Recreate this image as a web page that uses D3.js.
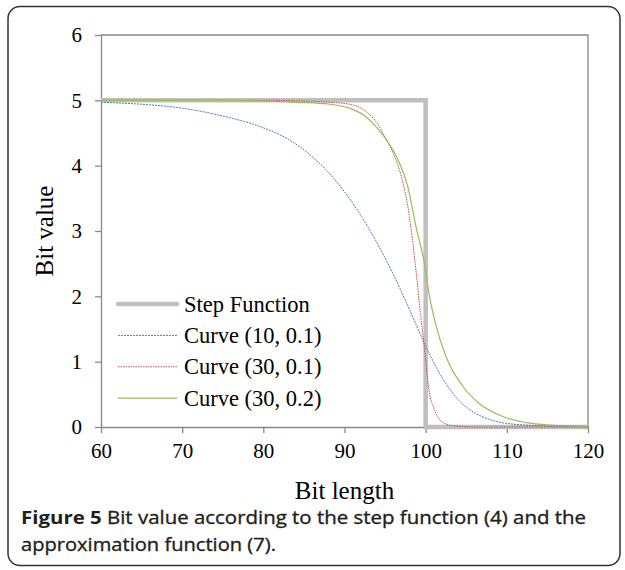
<!DOCTYPE html>
<html>
<head>
<meta charset="utf-8">
<script src="https://cdn.jsdelivr.net/npm/d3@7"></script>
<style>
  html, body { margin: 0; padding: 0; background: #fff; }
  svg { display: block; }
</style>
</head>
<body>
<svg id="chart" width="625" height="570"></svg>
<script>
// Axis ticks
const xTicks = [60, 70, 80, 90, 100, 110, 120];
const yTicks = [0, 1, 2, 3, 4, 5, 6];

// Step function: bit value 5 up to length 100, then 0
const stepX = [60, 100, 100, 120];
const stepY = [5, 5, 0, 0];

// Curve (10, 0.1)
const curveAX = [60, 65, 70, 75, 80, 83, 86, 88, 90, 92, 94, 96, 98, 100, 102, 104, 106, 108, 110, 115, 120];
const curveAY = [4.97, 4.94, 4.88, 4.76, 4.58, 4.41, 4.14, 3.9, 3.6, 3.24, 2.82, 2.34, 1.8, 1.24, 0.76, 0.42, 0.22, 0.11, 0.055, 0.015, 0.005];

// Curve (30, 0.1)
const curveBX = [60, 80, 85, 88.2, 90.6, 92.3, 94, 95.2, 96, 96.9, 98, 98.8, 99.4, 100, 100.4, 101, 102, 103.3, 106, 120];
const curveBY = [5, 5, 4.99, 4.97, 4.94, 4.86, 4.65, 4.39, 4.19, 3.88, 3.22, 2.4, 1.69, 1.03, 0.57, 0.29, 0.08, 0.02, 0, 0];

// Curve (30, 0.2)
const curveCX = [60, 75, 80, 84, 88.2, 90.6, 92.3, 94, 95.2, 96.4, 97.8, 98.8, 99.85, 100.4, 101.2, 102.5, 104.6, 106.6, 109.5, 112.8, 116.9, 120];
const curveCY = [5, 5, 4.99, 4.97, 4.94, 4.88, 4.78, 4.58, 4.39, 4.14, 3.68, 3.07, 2.5, 2.05, 1.59, 1.08, 0.62, 0.36, 0.16, 0.06, 0.02, 0.01];

const seriesNames = ["Step Function", "Curve (10, 0.1)", "Curve (30, 0.1)", "Curve (30, 0.2)"];

const series = [
  { name: seriesNames[0], xs: stepX, ys: stepY, color: "#bfbfbf", width: 4.5, dash: null, curve: d3.curveLinear },
  { name: seriesNames[1], xs: curveAX, ys: curveAY, color: "#4a7ebb", width: 1, dash: "2,1", curve: d3.curveMonotoneX },
  { name: seriesNames[2], xs: curveBX, ys: curveBY, color: "#c0504d", width: 1, dash: "1.5,1", curve: d3.curveMonotoneX },
  { name: seriesNames[3], xs: curveCX, ys: curveCY, color: "#9bbb59", width: 1.2, dash: null, curve: d3.curveMonotoneX }
];

const svg = d3.select("#chart");

// Figure frame
svg.append("rect")
  .attr("x", 8).attr("y", 6.5)
  .attr("width", 612).attr("height", 559)
  .attr("rx", 12).attr("ry", 12)
  .attr("fill", "none")
  .attr("stroke", "#333")
  .attr("stroke-width", 1.5);

const plot = { left: 101, right: 588, top: 35, bottom: 427 };

const x = d3.scaleLinear().domain([60, 120]).range([plot.left, plot.right]);
const y = d3.scaleLinear().domain([0, 6]).range([plot.bottom, plot.top]);

const axisColor = "#888";
const serif = "'Liberation Serif', 'Times New Roman', serif";

// Plot-area border (top and right)
svg.append("path")
  .attr("d", `M${plot.left},${plot.top}H${plot.right}V${plot.bottom}`)
  .attr("fill", "none")
  .attr("stroke", axisColor)
  .attr("stroke-width", 1.3);

// X axis
const xAxis = svg.append("g")
  .attr("transform", `translate(0,${plot.bottom})`)
  .call(d3.axisBottom(x).tickValues(xTicks).tickFormat(d3.format("d"))
    .tickSize(6).tickPadding(10).tickSizeOuter(0));
xAxis.select(".domain").attr("stroke", axisColor).attr("stroke-width", 1.3);
xAxis.selectAll(".tick line").attr("stroke", axisColor).attr("stroke-width", 1.3);
xAxis.selectAll(".tick text")
  .attr("fill", "#000")
  .style("font-family", serif)
  .style("font-size", "21px");

// Y axis
const yAxis = svg.append("g")
  .attr("transform", `translate(${plot.left},0)`)
  .call(d3.axisLeft(y).tickValues(yTicks).tickFormat(d3.format("d"))
    .tickSize(6).tickPadding(13).tickSizeOuter(0));
yAxis.select(".domain").attr("stroke", axisColor).attr("stroke-width", 1.3);
yAxis.selectAll(".tick line").attr("stroke", axisColor).attr("stroke-width", 1.3);
yAxis.selectAll(".tick text")
  .attr("fill", "#000")
  .style("font-family", serif)
  .style("font-size", "21px");

// Series lines
const line = d3.line().x(d => x(d[0])).y(d => y(d[1]));
series.forEach(s => {
  const pts = s.xs.map((v, i) => [v, s.ys[i]]);
  svg.append("path")
    .datum(pts)
    .attr("d", line.curve(s.curve))
    .attr("fill", "none")
    .attr("stroke", s.color)
    .attr("stroke-width", s.width)
    .attr("stroke-dasharray", s.dash)
    .attr("stroke-linejoin", "miter");
});

// Legend
const legend = svg.append("g").attr("transform", "translate(118,304)");
series.forEach((s, i) => {
  const row = legend.append("g").attr("transform", `translate(0,${i * 31.4})`);
  row.append("line")
    .attr("x1", 0).attr("x2", 59).attr("y1", 0).attr("y2", 0)
    .attr("stroke", s.color)
    .attr("stroke-width", s.width)
    .attr("stroke-linecap", i === 0 ? "round" : "butt")
    .attr("stroke-dasharray", s.dash);
  row.append("text")
    .attr("x", 66).attr("y", 0).attr("dy", "0.34em")
    .style("font-family", serif)
    .style("font-size", "22.5px")
    .text(s.name);
});

// Axis titles
svg.append("text")
  .attr("x", (plot.left + plot.right) / 2)
  .attr("y", 499)
  .attr("text-anchor", "middle")
  .style("font-family", serif)
  .style("font-size", "25px")
  .text("Bit length");

svg.append("text")
  .attr("transform", `translate(53,${(plot.top + plot.bottom) / 2}) rotate(-90)`)
  .attr("text-anchor", "middle")
  .style("font-family", serif)
  .style("font-size", "25px")
  .text("Bit value");

// Caption
const sans = "'Open Sans', 'Noto Sans', sans-serif";
const capColor = "#231f20";
const cap1 = svg.append("text")
  .attr("x", 21).attr("y", 524)
  .attr("textLength", 565).attr("lengthAdjust", "spacingAndGlyphs")
  .style("font-family", sans).style("font-size", "18px")
  .attr("fill", capColor);
cap1.append("tspan").style("font-weight", "bold").text("Figure 5");
cap1.append("tspan")
  .attr("stroke", capColor).attr("stroke-width", 0.35)
  .text(" Bit value according to the step function (4) and the");

svg.append("text")
  .attr("x", 21).attr("y", 551)
  .attr("textLength", 255).attr("lengthAdjust", "spacingAndGlyphs")
  .style("font-family", sans).style("font-size", "18px")
  .attr("fill", capColor).attr("stroke", capColor).attr("stroke-width", 0.35)
  .text("approximation function (7).");
</script>
</body>
</html>
